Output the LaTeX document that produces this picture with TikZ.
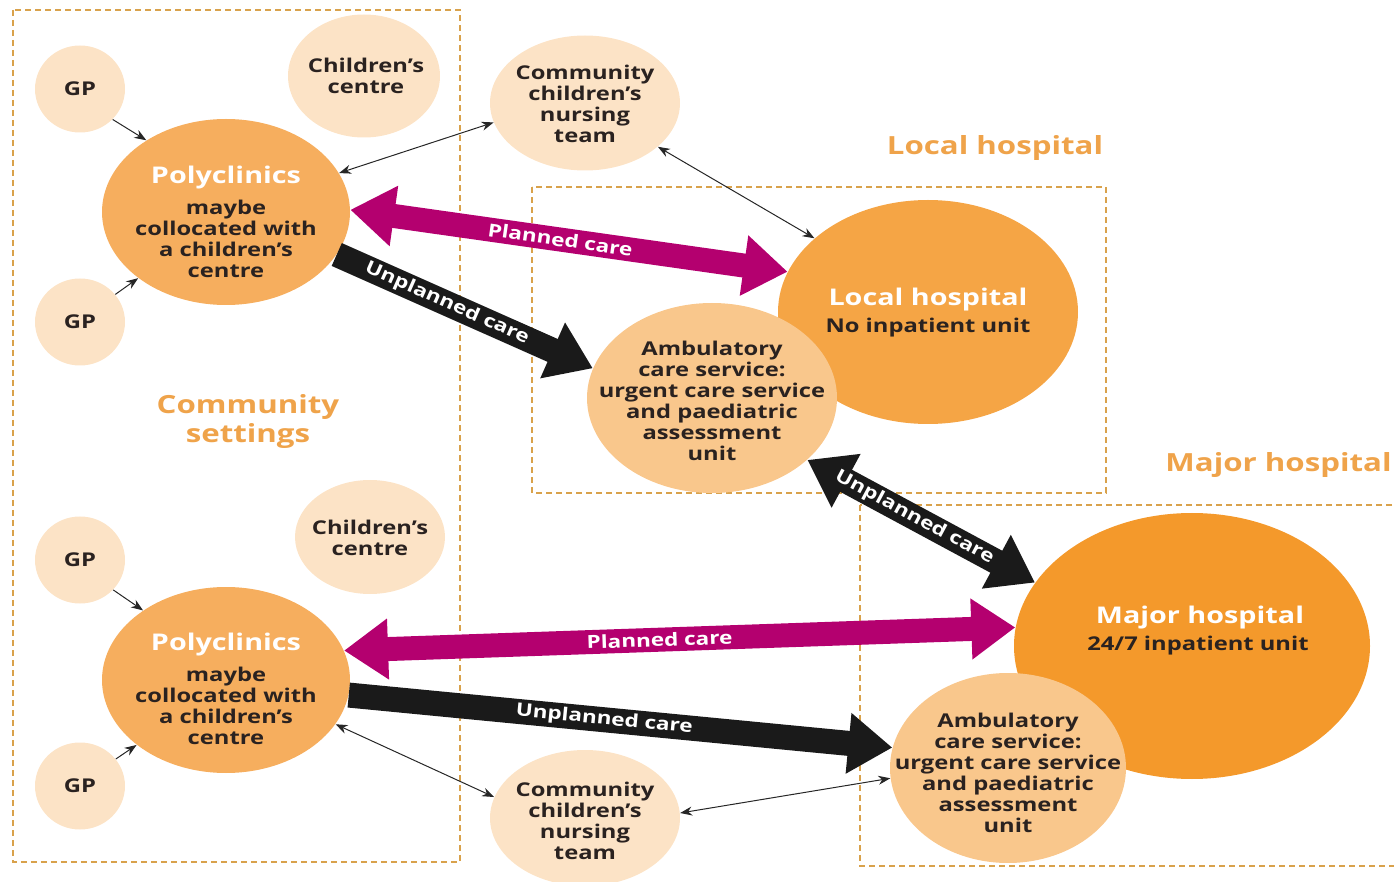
\documentclass[tikz,border=0pt]{standalone}
\usepackage{fontspec}
\setmainfont{Open Sans}[FakeStretch=1.25]
\usetikzlibrary{shapes.geometric,arrows.meta}
\definecolor{peach}{HTML}{FCE3C6}
\definecolor{ambc}{HTML}{F9C78C}
\definecolor{polyc}{HTML}{F6AE5E}
\definecolor{localc}{HTML}{F5A545}
\definecolor{majorc}{HTML}{F4992B}
\definecolor{lblorange}{HTML}{EFA34A}
\definecolor{boxc}{HTML}{D9A24C}
\definecolor{magc}{HTML}{B4006F}
\definecolor{darkc}{HTML}{1A1A1A}
\definecolor{textdark}{HTML}{2A2220}
\begin{document}
\begin{tikzpicture}[x=0.5pt,y=-0.5pt,
  blob/.style={ellipse, inner sep=0pt, draw=none},
  light/.style={blob, fill=peach},
  txt/.style={font=\bfseries\fontsize{9.5}{10.5}\selectfont, align=center, text=textdark, inner sep=0pt},
  ttl/.style={font=\bfseries\fontsize{11.5}{14}\selectfont, text=white, inner sep=0pt},
  sect/.style={font=\bfseries\fontsize{12.5}{14.5}\selectfont, text=lblorange, align=center, inner sep=0pt},
  box/.style={draw=boxc, line width=0.6pt, dash pattern=on 3pt off 2pt},
  thin/.style={draw=black!85, line width=0.5pt, -{Stealth[length=6pt,width=4.5pt]}},
  thinboth/.style={draw=black!85, line width=0.5pt, {Stealth[length=6pt,width=4.5pt]}-{Stealth[length=6pt,width=4.5pt]}},
  planned/.style={draw=magc, line width=12pt, {Triangle[width=29pt,length=22pt]}-{Triangle[width=29pt,length=22pt]}},
  unpl/.style={draw=darkc, line width=12.5pt, -{Triangle[width=29pt,length=22pt]}},
  unplboth/.style={draw=darkc, line width=12.5pt, {Triangle[width=29pt,length=22pt]}-{Triangle[width=29pt,length=22pt]}},
  albl/.style={sloped, text=white, font=\bfseries\fontsize{9}{10}\selectfont, inner sep=0pt}
]
\useasboundingbox (0,0) rectangle (1394,882);

% dashed boxes
\draw[box] (13,10) rectangle (460,862);
\draw[box] (532,187) rectangle (1106,493);
\draw[box] (860,505) rectangle (1420,866);

% section labels
\node[sect] (lblLocal) at (995,148) {Local hospital};
\node[sect, anchor=west] (lblMajor) at (1165,465) {Major hospital};
\node[sect] (lblComm) at (248,422) {Community\\settings};

% circles
\node[light, minimum width=45pt, minimum height=43.5pt] (gp1) at (80,89) {};
\node[light, minimum width=45pt, minimum height=43.5pt] (gp2) at (80,322) {};
\node[light, minimum width=45pt, minimum height=43.5pt] (gp3) at (80,560) {};
\node[light, minimum width=45pt, minimum height=43.5pt] (gp4) at (80,786) {};
\node[light, minimum width=76pt, minimum height=61.5pt] (cc1) at (364,76) {};
\node[light, minimum width=75pt, minimum height=57pt] (cc2) at (370,537) {};
\node[blob, fill=polyc, minimum width=124pt, minimum height=93pt] (poly1) at (226,212) {};
\node[blob, fill=polyc, minimum width=124pt, minimum height=93pt] (poly2) at (226,680) {};
\node[light, minimum width=95pt, minimum height=67.5pt] (nurse1) at (585,103) {};
\node[light, minimum width=95pt, minimum height=68pt] (nurse2) at (585,818) {};
\node[blob, fill=localc, minimum width=150pt, minimum height=112pt] (local) at (928,312) {};
\node[blob, fill=ambc, minimum width=125pt, minimum height=95pt] (amb1) at (712,398) {};
\node[blob, fill=majorc, minimum width=178pt, minimum height=133pt] (major) at (1192,646) {};
\node[blob, fill=ambc, minimum width=118pt, minimum height=95pt] (amb2) at (1008,768) {};

% texts
\node[txt] (tgp1) at (80,89) {GP};
\node[txt] (tgp2) at (80,322) {GP};
\node[txt] (tgp3) at (80,560) {GP};
\node[txt] (tgp4) at (80,786) {GP};
\node[txt] (tcc1) at (366,76) {Children’s\\centre};
\node[txt] (tcc2) at (370,538) {Children’s\\centre};
\node[ttl] (tpoly1) at (226,178) {Polyclinics};
\node[txt] (spoly1) at (226,239) {maybe\\collocated with\\a children’s\\centre};
\node[ttl] (tpoly2) at (226,645) {Polyclinics};
\node[txt] (spoly2) at (226,706) {maybe\\collocated with\\a children’s\\centre};
\node[txt] (tnurse1) at (585,104) {Community\\children’s\\nursing\\team};
\node[txt] (tnurse2) at (585,821) {Community\\children’s\\nursing\\team};
\node[ttl] (tlocal) at (928,300) {Local hospital};
\node[txt] (slocal) at (928,328) {No inpatient unit};
\node[txt] (tamb1) at (712,401) {Ambulatory\\care service:\\urgent care service\\and paediatric\\assessment\\unit};
\node[ttl] (tmajor) at (1200,618) {Major hospital};
\node[txt] (smajor) at (1198,646) {24/7 inpatient unit};
\node[txt] (tamb2) at (1008,773) {Ambulatory\\care service:\\urgent care service\\and paediatric\\assessment\\unit};

% thin connectors
\draw[thin] (gp1.-43) -- (poly1.138);
\draw[thin] (gp2.38) -- (poly1.217);
\draw[thin] (gp3.-42) -- (poly2.140);
\draw[thin] (gp4.37) -- (poly2.216);
\draw[thinboth] (poly1.19) -- (nurse1.192);
\draw[thinboth] (nurse1.-31) -- (local.147);
\draw[thinboth] (poly2.-22) -- (nurse2.167);
\draw[thinboth] (nurse2.3) -- (amb2.185);

% thick care arrows
\draw[planned] (poly1.1) -- (local.164) node[albl, pos=0.48] {Planned care};
\draw[unpl] (poly1.-21) -- (amb1.166) node[albl, pos=0.43] {Unplanned care};
\draw[unplboth] (amb1.-33) -- (major.158) node[albl, pos=0.47] {Unplanned care};
\draw[planned] (poly2.14) -- (major.174) node[albl, pos=0.47] {Planned care};
\draw[unpl] (poly2.-7) -- (amb2.170) node[albl, pos=0.47] {Unplanned care};
\end{tikzpicture}
\end{document}
